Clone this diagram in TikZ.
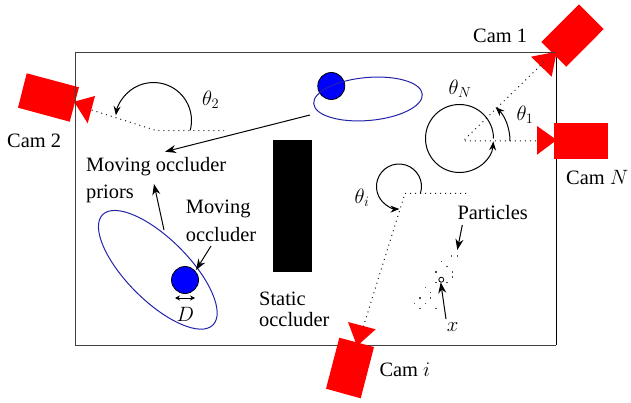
\documentclass[tikz,border=0pt]{standalone}
\usepackage{fontspec}
\setmainfont{Liberation Serif}
\usetikzlibrary{arrows.meta}
\definecolor{orbit}{RGB}{35,35,170}
\tikzset{
  x=1pt,y=-1pt,
  lbl/.style={inner sep=0pt,anchor=base west,font=\fontsize{20.4}{27}\selectfont,align=left},
  mathlbl/.style={inner sep=0pt,anchor=center,font=\fontsize{20.4}{27}\selectfont},
  frameline/.style={line width=1pt,black!75},
  cam/.style={fill=red,draw=none},
  ray/.style={line width=1pt,dash pattern=on 1pt off 4pt,black!90},
  angarc/.style={line width=1pt,-{Stealth[length=9pt,width=7pt]}},
  pointer/.style={line width=1pt,-{Stealth[length=11pt,width=8pt]}},
  orbitline/.style={line width=1pt,orbit},
  occ/.style={circle,draw=black,line width=0.8pt,fill=blue,minimum size=27pt,inner sep=0pt},
  particle/.style={fill=black!70},
}
\begin{document}
\begin{tikzpicture}
\useasboundingbox (0,0) rectangle (631,403);
% frame lower/right
\draw[line width=1pt,black] (556,53) -- (556,345);
\draw[frameline] (75,345) -- (556,345);
% cameras
\fill[cam] (579,4.3) -- (603.7,29) -- (566.3,66.7) -- (541.3,42) -- cycle;
\fill[cam] (531,56.7) -- (556.7,51.7) -- (551.7,76.7) -- cycle;
\fill[cam] (554,123) rectangle (608,158.7);
\fill[cam] (537,126) -- (556.7,140) -- (537,154.7) -- cycle;
\fill[cam] (26.7,73.3) -- (79,87.3) -- (69.7,121.7) -- (18,107.7) -- cycle;
\fill[cam] (95,96) -- (74,101.7) -- (87.7,123.3) -- cycle;
\fill[cam] (339.3,337.7) -- (374,347) -- (360.7,398.3) -- (326,388.7) -- cycle;
\fill[cam] (348,322) -- (375.7,329.3) -- (357,346) -- cycle;
% frame upper/left
\draw[frameline] (75,345) -- (75,53) -- (556,53);
% named points
\coordinate (vN) at (463,141);
\coordinate (v2) at (156.7,130.7);
\coordinate (vi) at (405,193.3);
\coordinate (cam1tip) at (544,62);
\coordinate (camNtip) at (537,141);
\coordinate (cam2tip) at (91.7,110);
\coordinate (camitip) at (363.3,326.7);
\coordinate (vNend) at (537,141);
\coordinate (v2end) at (224,130.7);
\coordinate (viend) at (470,193.3);
% rays
\draw[ray] (cam1tip) -- (vN) -- (camNtip);
\draw[ray] (cam2tip) -- (v2) -- (v2end);
\draw[ray] (camitip) -- (vi) -- (viend);
% angle arcs
\coordinate (c1) at (463,141);
\coordinate (cN) at (459.5,138.5);
\coordinate (c2) at (153.5,120.5);
\coordinate (ci) at (399,186.5);
\draw[angarc] ([shift={(0:47pt)}]c1) arc[start angle=0,end angle=46,radius=47pt];
\draw[angarc] ([shift={(0:34pt)}]cN) arc[start angle=0,end angle=355,radius=34pt];
\draw[angarc] ([shift={(-15:38pt)}]c2) arc[start angle=-15,end angle=172,radius=38pt];
\draw[angarc] ([shift={(-17:22.5pt)}]ci) arc[start angle=-17,end angle=271,radius=22.5pt];
% static occluder
\fill[black] (273,140) rectangle (312,272);
% moving occluders and orbits
\node[occ] (occA) at (331.3,86) {};
\node[occ] (occB) at (185,280) {};
\coordinate (orbA) at (368,99);
\coordinate (orbB) at (157.8,269.8);
\draw[orbitline,rotate around={5:(orbA)}] (orbA) ellipse [x radius=54.5pt,y radius=21.5pt];
\draw[orbitline,rotate around={-45:(orbB)}] (orbB) ellipse [x radius=78pt,y radius=31pt];
% D marker
\coordinate (dL) at (175,298);
\coordinate (dR) at (195,298);
\draw[line width=1pt,{Stealth[length=5pt,width=5pt]}-{Stealth[length=5pt,width=5pt]}] (dL) -- (dR);
% particles
\foreach \px/\py in {395/318,412/318,364/335,381/350,348/366,397/366,397/381,348/397,381/397,316/412,364/413,332/428,332/444,300/444,316/460,284/460,348/475,300/475}
  \fill[particle] ({320+\px/3-0.6},{150+\py/3-0.6}) rectangle ++(1.2,1.2);
\node[circle,draw=black,line width=0.8pt,fill=white,minimum size=5pt,inner sep=0pt] (xpt) at (441.3,279.7) {};
% labels
\node[lbl] (lcam1) at (473,42.5) {Cam 1};
\node[lbl] (lcam2) at (7,147.5) {Cam 2};
\node[lbl] (lcamN) at (566,185) {Cam $N$};
\node[lbl] (lcami) at (379.3,376.7) {Cam $i$};
\node[mathlbl] (tN) at (460,89) {$\theta_N$};
\node[mathlbl] (t1) at (525,115) {$\theta_1$};
\node[mathlbl] (t2) at (210.7,100) {$\theta_2$};
\node[mathlbl] (ti) at (362,197.7) {$\theta_i$};
\node[lbl] (lprior) at (86,171.7) {Moving occluder};
\node[lbl] (lprior2) at (86,199) {priors};
\node[lbl] (lmov) at (185.7,213.3) {Moving};
\node[lbl] (lmov2) at (185.7,241.7) {occluder};
\node[lbl] (lstat) at (259,305) {Static};
\node[lbl] (lstat2) at (259,326) {occluder};
\node[lbl] (lpart) at (457.3,220) {Particles};
\node[mathlbl] (lx) at (452.7,327) {$x$};
\node[mathlbl] (lD) at (185.3,314) {$D$};
% pointers
\coordinate (pA) at (310,115);
\coordinate (pAt) at (165,151.7);
\coordinate (pB) at (164,230);
\coordinate (pBt) at (154,184);
\coordinate (pC) at (211,246);
\coordinate (pCt) at (196,270);
\coordinate (pD) at (462.3,225);
\coordinate (pDt) at (457.3,250);
\coordinate (pE) at (446,319);
\coordinate (pEt) at (440.7,282.3);
\draw[pointer] (pA) -- (pAt);
\draw[pointer] (pB) -- (pBt);
\draw[pointer] (pC) -- (pCt);
\draw[pointer] (pD) -- (pDt);
\draw[pointer] (pE) -- (pEt);
\end{tikzpicture}
\end{document}
